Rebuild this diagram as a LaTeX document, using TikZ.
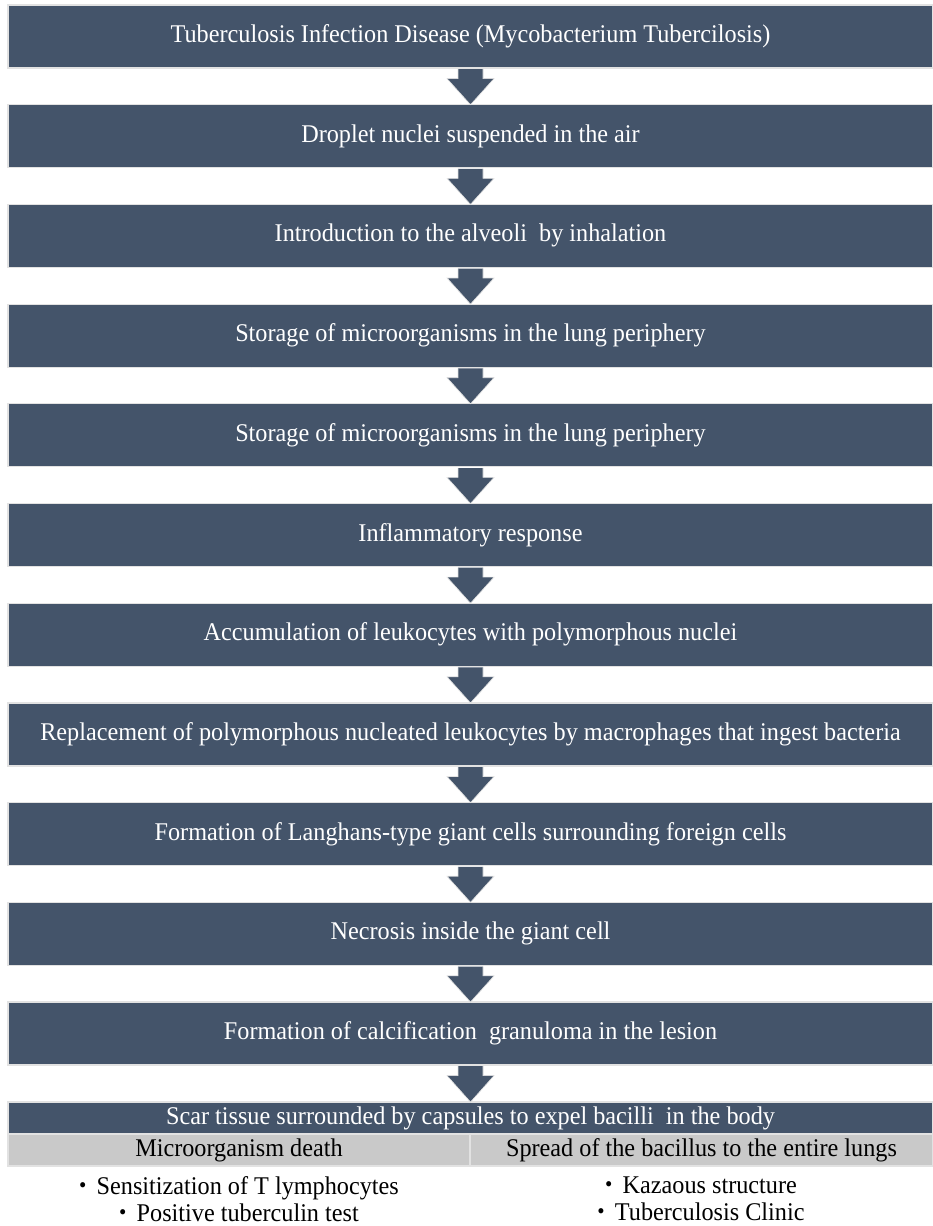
\documentclass[tikz,border=0pt]{standalone}
\usepackage{fontspec}
\setmainfont[FakeStretch=0.95]{Liberation Serif}
\usetikzlibrary{calc}
\definecolor{slate}{HTML}{44546A}
\definecolor{cellgray}{HTML}{C9C9C9}
\definecolor{rim}{HTML}{E2E2E2}
\newcommand{\mybul}{\raisebox{0.08em}{\fontsize{22}{22}\selectfont\textbullet}\hspace{0.4em}}
\begin{document}
\begin{tikzpicture}[x=1pt,y=-1pt,
  box/.style={fill=slate,draw=rim,line width=1.2pt,text=white,minimum width=925pt,minimum height=63pt,inner sep=0pt,font=\fontsize{25.5}{28}\selectfont},
  scarbox/.style={fill=slate,draw=rim,line width=1.2pt,text=white,minimum width=925pt,minimum height=32pt,inner sep=0pt,font=\fontsize{25.5}{28}\selectfont},
  cell/.style={fill=cellgray,draw=rim,line width=1.2pt,text=black,minimum height=32pt,inner sep=0pt,font=\fontsize{25.5}{28}\selectfont},
  bullets/.style={align=center,text=black,inner sep=0pt,font=\fontsize{25.5}{27.5}\selectfont},
  blockarrow/.style={fill=slate,draw=rim,line width=0.6pt}]
\useasboundingbox (0,0) rectangle (933,1226);
\fill[white] (0,0) rectangle (933,1226);
\foreach \t [count=\i from 1] in {
  {Tuberculosis Infection Disease (Mycobacterium Tubercilosis)},
  {Droplet nuclei suspended in the air},
  {Introduction to the alveoli\ \ by inhalation},
  {Storage of microorganisms in the lung periphery},
  {Storage of microorganisms in the lung periphery},
  {Inflammatory response},
  {Accumulation of leukocytes with polymorphous nuclei},
  {Replacement of polymorphous nucleated leukocytes by macrophages that ingest bacteria},
  {Formation of Langhans-type giant cells surrounding foreign cells},
  {Necrosis inside the giant cell},
  {Formation of calcification\ \ granuloma in the lesion}}
{
  \node[box] (b\i) at (470.5,{36.5+99.7*(\i-1)}) {\t};
}
\node[scarbox] (b12) at (470.5,1118) {Scar tissue surrounded by capsules to expel bacilli\ \ in the body};
\node[cell,minimum width=462pt] (c1) at (239,1150) {Microorganism death};
\node[cell,minimum width=463pt] (c2) at (701.5,1150) {Spread of the bacillus to the entire lungs};
\node[bullets] (l1) at (239,1199) {\mybul Sensitization of T lymphocytes\\ \mybul Positive tuberculin test};
\node[bullets] (l2) at (701,1199) {\mybul Kazaous structure\\ \mybul Tuberculosis Clinic};
\foreach \i [evaluate=\i as \j using int(\i+1)] in {1,...,11}
{
  \draw[blockarrow] ($(b\i.south)+(-12.5,0.6)$) -- ++(0,9.4) -- ++(-11,0)
     -- ($(b\j.north)+(0,0.6)$) -- ($(b\i.south)+(23.5,10)$) -- ++(-11,0) -- ++(0,-9.4);
}
\end{tikzpicture}
\end{document}
